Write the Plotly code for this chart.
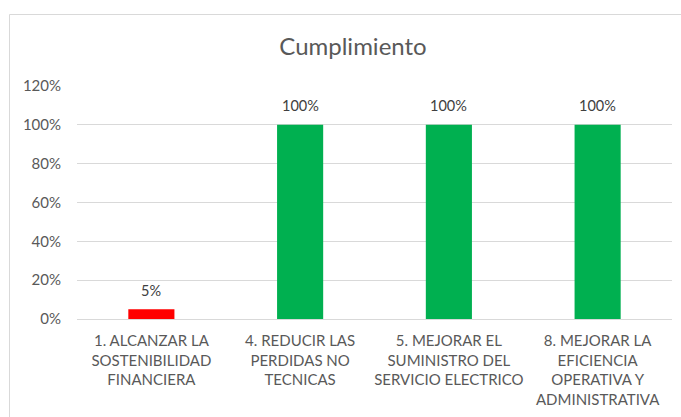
import plotly.graph_objects as go

categories = [
    "1. ALCANZAR LA<br>SOSTENIBILIDAD<br>FINANCIERA",
    "4. REDUCIR LAS<br>PERDIDAS NO<br>TECNICAS",
    "5. MEJORAR EL<br>SUMINISTRO DEL<br>SERVICIO ELECTRICO",
    "8. MEJORAR LA<br>EFICIENCIA<br>OPERATIVA Y<br>ADMINISTRATIVA",
]
values = [0.05, 1.00, 1.00, 1.00]
labels = ["5%", "100%", "100%", "100%"]
colors = ["#FF0000", "#00B050", "#00B050", "#00B050"]
y_ticks = [0, 0.2, 0.4, 0.6, 0.8, 1.0, 1.2]
y_tick_text = ["0%", "20%", "40%", "60%", "80%", "100%", "120%"]

FONT = "Lato, Liberation Sans, Arial, sans-serif"

fig = go.Figure(go.Bar(
    x=categories,
    y=values,
    marker=dict(color=colors, line=dict(width=0)),
    width=0.31,
    hoverinfo="skip",
))

for c, v, t in zip(categories, values, labels):
    fig.add_annotation(
        x=c, y=v, text=t, showarrow=False,
        yanchor="middle", yshift=19,
        font=dict(size=14.5, color="#404040", family=FONT),
    )

W, H = 681, 417
ml, mr, mt, mb = 77, 9, 86, 98
pw, ph = W - ml - mr, H - mt - mb

def px_to_paper_x(px):
    return (px - ml) / pw

def px_to_paper_y(py):
    return (H - mb - py) / ph

fig.update_layout(
    width=W, height=H,
    margin=dict(l=ml, r=mr, t=mt, b=mb, autoexpand=False),
    paper_bgcolor="white",
    plot_bgcolor="white",
    showlegend=False,
    title=dict(
        text="Cumplimiento",
        x=353 / W, xanchor="center",
        y=1 - 47 / H, yanchor="middle",
        font=dict(size=24, color="#595959", family=FONT),
    ),
    font=dict(family=FONT, color="#595959"),
    xaxis=dict(
        showgrid=False,
        showline=False,
        ticks="",
        tickfont=dict(size=15, color="#595959", family=FONT),
        tickangle=0,
        ticklabelstandoff=11,
    ),
    yaxis=dict(
        range=[0, 1.2],
        tickvals=y_ticks,
        ticktext=y_tick_text,
        showgrid=True,
        gridcolor="#D9D9D9",
        gridwidth=1,
        zeroline=True,
        zerolinecolor="#D9D9D9",
        zerolinewidth=1,
        showline=False,
        ticks="",
        ticklabelstandoff=15,
        tickfont=dict(size=15, color="#595959", family=FONT),
    ),
    shapes=[dict(
        type="rect", xref="paper", yref="paper",
        x0=px_to_paper_x(9.5), x1=px_to_paper_x(W + 20),
        y0=px_to_paper_y(H + 20), y1=px_to_paper_y(14.5),
        line=dict(color="#D9D9D9", width=1),
        fillcolor="rgba(0,0,0,0)",
        layer="below",
    )],
)

fig.write_html("out.html", config={"displayModeBar": False},
               post_script="document.body.style.margin='0px';")
